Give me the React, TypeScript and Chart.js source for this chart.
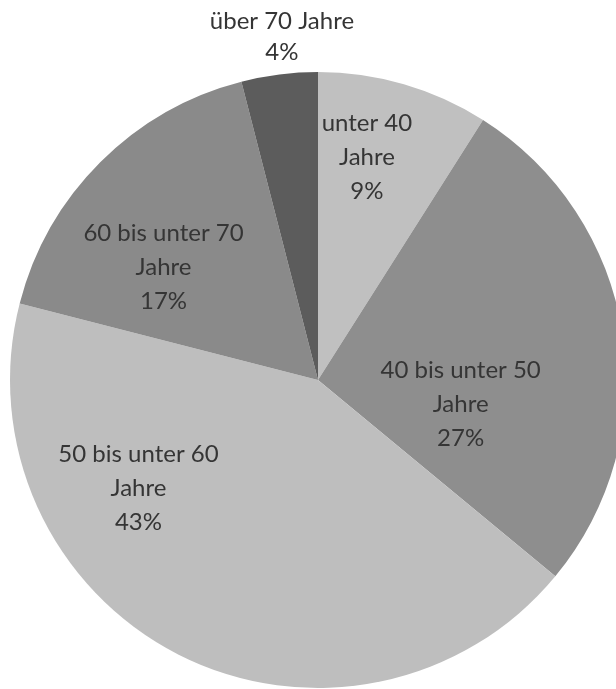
import React, { useEffect, useRef } from "react";
import { Chart, registerables } from "chart.js";

Chart.register(...registerables);

const categories = [
  "unter 40 Jahre",
  "40 bis unter 50 Jahre",
  "50 bis unter 60 Jahre",
  "60 bis unter 70 Jahre",
  "über 70 Jahre",
];
const labelLines = [
  ["unter 40", "Jahre"],
  ["40 bis unter 50", "Jahre"],
  ["50 bis unter 60", "Jahre"],
  ["60 bis unter 70", "Jahre"],
  ["über 70 Jahre"],
];
const values = [9, 27, 43, 17, 4];
const colors = ["#c0c0c0", "#8e8e8e", "#bebebe", "#8a8a8a", "#5c5c5c"];

// label placement: angle (deg clockwise from 12 o'clock) and radius fraction
const labelAngle = [12.4, 99.8, 239, 306, 354];
const labelRadius = [0.74, 0.47, 0.68, 0.62, 1.12];

const labelPlugin = {
  id: "sliceLabels",
  afterDatasetsDraw(chart: any) {
    const ctx = chart.ctx;
    const meta = chart.getDatasetMeta(0);
    const total = values.reduce((a, b) => a + b, 0);
    ctx.save();
    ctx.font = "24px Lato, 'Open Sans', sans-serif";
    ctx.fillStyle = "#353535";
    ctx.textAlign = "center";
    ctx.textBaseline = "middle";
    meta.data.forEach((arc: any, i: number) => {
      const { x, y, outerRadius } = arc.getProps(["x", "y", "outerRadius"], true);
      const a = (labelAngle[i] * Math.PI) / 180;
      const r = outerRadius * labelRadius[i];
      const cx = x + Math.sin(a) * r;
      const cy = y - Math.cos(a) * r;
      const lines = [...labelLines[i], Math.round((values[i] / total) * 100) + "%"];
      const lh = lines.length === 2 ? 31 : 34;
      const start = cy - ((lines.length - 1) * lh) / 2;
      lines.forEach((t, k) => ctx.fillText(t, cx, start + k * lh));
    });
    ctx.restore();
  },
};

export default function App() {
  const ref = useRef<HTMLCanvasElement>(null);
  useEffect(() => {
    if (!ref.current) return;
    const chart = new Chart(ref.current, {
      type: "pie",
      data: {
        labels: categories,
        datasets: [
          {
            data: values,
            backgroundColor: colors,
            borderWidth: 0,
          },
        ],
      },
      options: {
        animation: false,
        responsive: false,
        maintainAspectRatio: false,
        layout: { padding: { left: 10, right: 14, top: 72, bottom: 1 } },
        plugins: {
          legend: { display: false },
          tooltip: { enabled: false },
        },
      },
      plugins: [labelPlugin],
    });
    return () => chart.destroy();
  }, []);
  return (
    <div style={{ position: "fixed", left: 0, top: 0, width: 616, height: 689, overflow: "hidden", background: "#fff" }}>
      <canvas ref={ref} width={640} height={689} style={{ width: 640, height: 689, display: "block" }} />
    </div>
  );
}
